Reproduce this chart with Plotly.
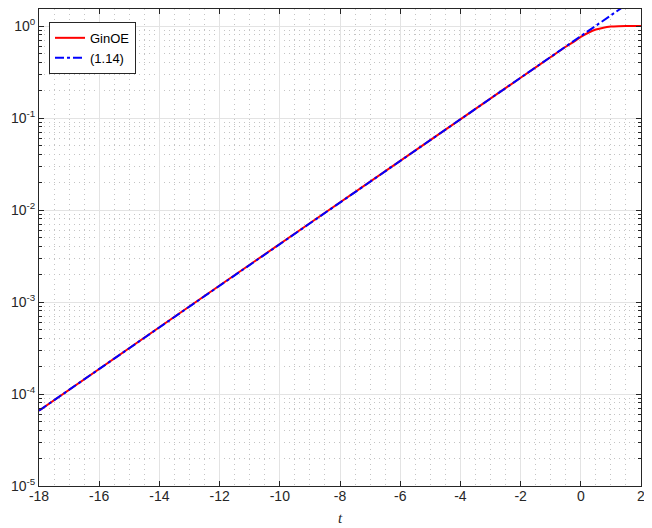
import plotly.graph_objects as go

# GinOE curve (red)
t_ginoe = [-18, -12, -6, -2, -1, -0.5, -0.25, 0, 0.25, 0.5, 0.75, 1.0, 1.25, 1.5, 2.0]
p_ginoe = [6.6e-5, 1.51e-3, 3.42e-2, 0.274, 0.46, 0.595, 0.668, 0.762, 0.845, 0.915, 0.96, 0.985, 0.995, 0.999, 1.0]

# asymptotic formula (1.14), blue dash-dot
t_asym = [-18, -12, -6, 0, 2]
p_asym = [6.6e-5, 1.51e-3, 3.42e-2, 0.776, 2.2]

x_vals = [-18, -16, -14, -12, -10, -8, -6, -4, -2, 0, 2]
x_text = ["-18", "-16", "-14", "-12", "-10", "-8", "-6", "-4", "-2", "0", "2"]

y_vals = [1e-5, 1e-4, 1e-3, 1e-2, 1e-1, 1]
y_text = ["10<sup>-5</sup>", "10<sup>-4</sup>", "10<sup>-3</sup>",
          "10<sup>-2</sup>", "10<sup>-1</sup>", "10<sup>0</sup>"]

TICK_FONT = dict(family="Liberation Sans, Arial, sans-serif", size=14, color="#262626")
AXIS_COLOR = "#262626"
MAJOR_GRID = "#e3e3e3"
MINOR_GRID = "#c4c4c4"

fig = go.Figure()
fig.add_trace(go.Scatter(
    x=t_ginoe, y=p_ginoe, mode="lines", name="GinOE",
    line=dict(color="#ff0000", width=2, shape="spline", smoothing=0.6),
))
fig.add_trace(go.Scatter(
    x=t_asym, y=p_asym, mode="lines", name="(1.14)",
    line=dict(color="#0000ff", width=2, dash="dashdot"),
))

# the page body adds an 8px margin, so the figure is a bit smaller than the window
fig.update_layout(
    width=640, height=520,
    paper_bgcolor="white", plot_bgcolor="white",
    margin=dict(l=31, r=7, t=1, b=42),
    font=TICK_FONT,
    showlegend=True,
    legend=dict(
        x=0.0166, y=0.973, xanchor="left", yanchor="top",
        bgcolor="white", bordercolor=AXIS_COLOR, borderwidth=1,
        font=dict(family="Liberation Sans, Arial, sans-serif", size=13, color="#000000"),
        tracegroupgap=0, itemwidth=30,
    ),
    xaxis=dict(
        range=[-18, 2],
        tickvals=x_vals, ticktext=x_text,
        ticklabeloverflow="allow", ticklabelstandoff=-3,
        showline=True, linecolor=AXIS_COLOR, linewidth=1, mirror="ticks",
        ticks="inside", ticklen=5, tickcolor=AXIS_COLOR,
        showgrid=True, gridcolor=MAJOR_GRID, gridwidth=1,
        zeroline=False,
        minor=dict(dtick=0.5, tick0=-18, showgrid=True, gridcolor=MINOR_GRID,
                   griddash="1px,4px", ticks=""),
        tickfont=TICK_FONT,
    ),
    yaxis=dict(
        type="log", range=[-5, 0.185],
        tickvals=y_vals, ticktext=y_text,
        ticklabeloverflow="allow",
        showline=True, linecolor=AXIS_COLOR, linewidth=1, mirror="ticks",
        ticks="inside", ticklen=5, tickcolor=AXIS_COLOR,
        showgrid=True, gridcolor=MAJOR_GRID, gridwidth=1,
        zeroline=False,
        minor=dict(dtick="D1", showgrid=True, gridcolor=MINOR_GRID, griddash="1px,4px",
                   ticks="inside", ticklen=3, tickcolor=AXIS_COLOR),
        tickfont=TICK_FONT,
    ),
    annotations=[dict(
        text="<i>t</i>", xref="paper", yref="paper", x=0.5, y=-0.067,
        xanchor="center", yanchor="middle", showarrow=False,
        font=dict(family="Liberation Serif, Times New Roman, serif", size=15, color="#262626"),
    )],
)

fig.write_html("out.html")
